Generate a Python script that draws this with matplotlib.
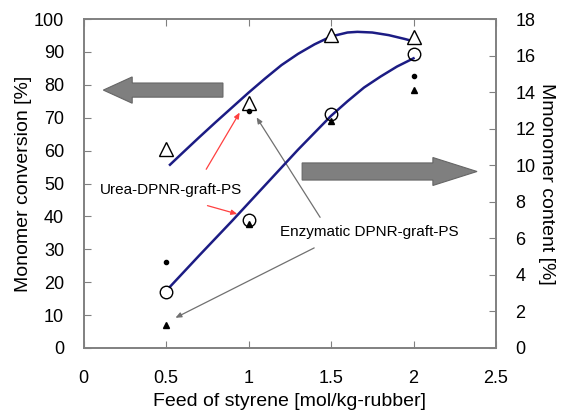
import matplotlib.pyplot as plt
from matplotlib.patches import FancyArrow

plt.rcParams['font.family'] = ['Liberation Sans', 'DejaVu Sans']

feed = [0.5, 1.0, 1.5, 2.0]

# Urea-DPNR-graft-PS (large open markers)
urea_conversion = [60.5, 74.5, 95.1, 94.6]      # left axis [%]
urea_content = [3.06, 7.0, 12.8, 16.1]          # right axis [%]

# Enzymatic DPNR-graft-PS (small filled markers)
enz_conv_x = [0.5, 1.0, 2.0]
enz_conversion = [26.2, 72.1, 82.7]             # left axis [%]
enz_content = [1.26, 6.8, 12.4, 14.1]           # right axis [%]

# fitted curves
fit_conv_x = [0.524, 0.6, 0.7, 0.8, 0.9, 1.0, 1.1, 1.2, 1.3, 1.4, 1.5,
              1.6, 1.66, 1.75, 1.85, 1.95, 2.03]
fit_conv_y = [55.7, 59.3, 64.0, 68.6, 73.1, 77.6, 81.9, 86.0, 89.4, 92.3, 94.7,
              95.9, 96.1, 95.9, 95.1, 93.9, 92.8]
fit_cont_x = [0.524, 0.7, 0.9, 1.1, 1.3, 1.5, 1.6, 1.7, 1.8, 1.9, 2.0]
fit_cont_y = [3.35, 5.05, 6.95, 8.9, 10.85, 12.7, 13.5, 14.25, 14.85, 15.4, 15.85]

navy = '#1c1c84'
spine = '#808080'

fig = plt.figure(figsize=(5.69, 4.18), dpi=100)
ax = fig.add_axes([0.1468, 0.1675, 0.7249, 0.787])
ax2 = ax.twinx()

ax.plot(fit_conv_x, fit_conv_y, color=navy, lw=1.8, zorder=2)
ax2.plot(fit_cont_x, fit_cont_y, color=navy, lw=1.8, zorder=2)

ax.plot(feed, urea_conversion, ls='none', marker='^', ms=10, mfc='white',
        mec='black', mew=1.0, zorder=3)
ax2.plot(feed, urea_content, ls='none', marker='o', ms=9, mfc='none',
         mec='black', mew=1.0, zorder=3)
ax.plot(enz_conv_x, enz_conversion, ls='none', marker='o', ms=3,
        color='black', zorder=3)
ax2.plot(feed, enz_content, ls='none', marker='^', ms=4,
         color='black', zorder=3)

ax.set_xlim(0, 2.5)
ax.set_ylim(0, 100)
ax2.set_ylim(0, 18)
ax.set_xticks([0, 0.5, 1, 1.5, 2, 2.5])
ax.set_xticklabels(['0', '0.5', '1', '1.5', '2', '2.5'])
ax.set_yticks(range(0, 101, 10))
ax2.set_yticks(range(0, 19, 2))

for a in (ax, ax2):
    for s in a.spines.values():
        s.set_color(spine)
        s.set_linewidth(1.2)
    a.tick_params(direction='in', length=5, color=spine, labelsize=13, pad=14)
ax.tick_params(axis='x', top=True, labeltop=False, pad=16)

ax.set_xlabel('Feed of styrene [mol/kg-rubber]', fontsize=14, labelpad=4)
ax.set_ylabel('Monomer conversion [%]', fontsize=14, labelpad=1)
ax2.set_ylabel('Mmonomer content [%]', fontsize=14, rotation=-90, labelpad=14)

# big gray arrows pointing at the relevant axis
ax.add_patch(FancyArrow(0.338, 0.784, -0.29, 0, width=0.043, head_width=0.08,
                        head_length=0.07, length_includes_head=True,
                        transform=ax.transAxes, fc='#7f7f7f', ec='#666666',
                        lw=0.8, zorder=4))
ax.add_patch(FancyArrow(0.53, 0.5365, 0.424, 0, width=0.052, head_width=0.085,
                        head_length=0.107, length_includes_head=True,
                        transform=ax.transAxes, fc='#7f7f7f', ec='#666666',
                        lw=0.8, zorder=4))

# labels with pointer arrows
ax.text(0.1, 48.0, 'Urea-DPNR-graft-PS', fontsize=11, va='center', ha='left')
ax.annotate('', xy=(0.955, 72.3), xytext=(0.735, 53.6),
            arrowprops=dict(arrowstyle='-|>,head_length=0.35,head_width=0.15',
                            color='#ff4040', lw=0.9))
ax.annotate('', xy=(0.948, 40.5), xytext=(0.735, 43.5),
            arrowprops=dict(arrowstyle='-|>,head_length=0.35,head_width=0.15',
                            color='#ff4040', lw=0.9))

ax.text(1.19, 35.3, 'Enzymatic DPNR-graft-PS', fontsize=11, va='center', ha='left')
ax.annotate('', xy=(1.04, 70.8), xytext=(1.443, 39.0),
            arrowprops=dict(arrowstyle='-|>,head_length=0.35,head_width=0.15',
                            color='#707070', lw=0.9))
ax.annotate('', xy=(0.542, 8.8), xytext=(1.413, 30.8),
            arrowprops=dict(arrowstyle='-|>,head_length=0.35,head_width=0.15',
                            color='#707070', lw=0.9))

fig.savefig('out.png', dpi=100)
